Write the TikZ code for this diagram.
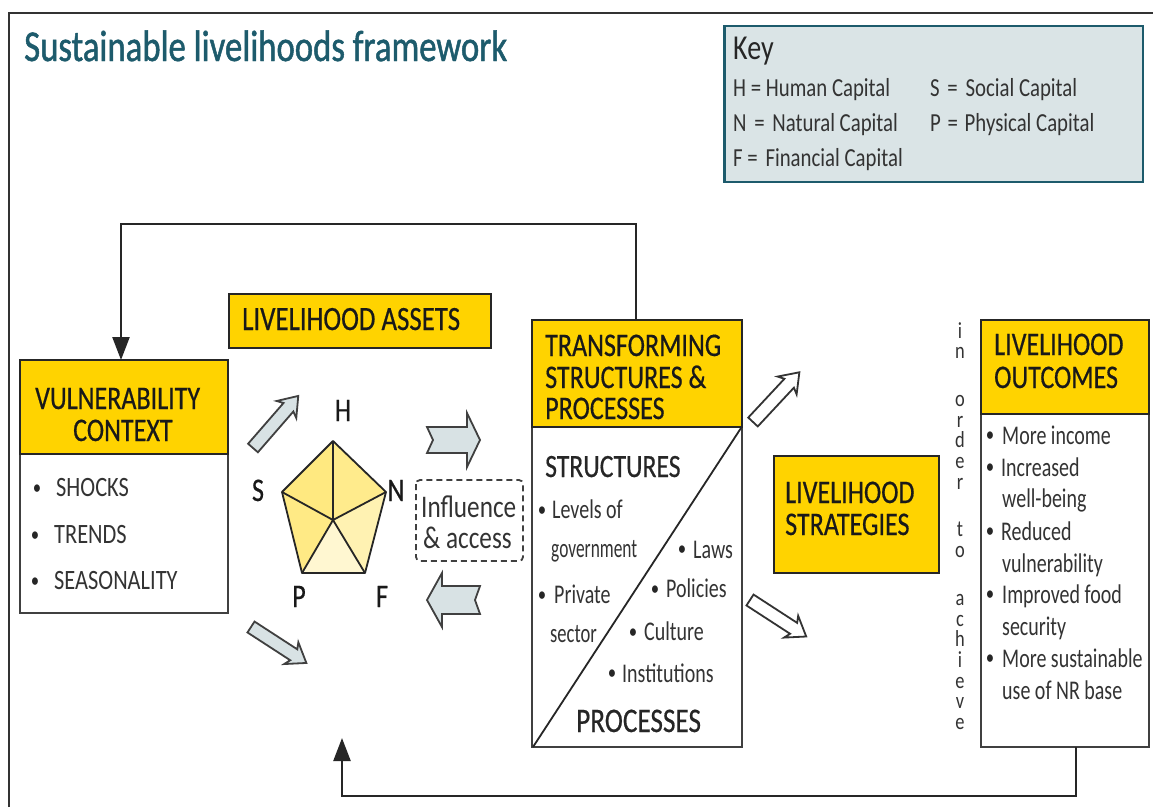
\documentclass[tikz,border=0pt]{standalone}
\usepackage{graphicx}
\usepackage{fontspec}
\setmainfont[FakeStretch=0.8]{Carlito}
\newfontfamily\narrowf[FakeStretch=0.74]{Carlito}
\newfontfamily\headf[FakeStretch=0.79,FakeBold=0.5]{Carlito}
\newfontfamily\titlef[FakeStretch=0.79,FakeBold=1.1]{Carlito}
\usetikzlibrary{arrows.meta,calc}
\definecolor{gold}{HTML}{FFD300}
\definecolor{teal}{HTML}{1D5B6C}
\definecolor{keyfill}{HTML}{DAE4E6}
\definecolor{arrowfill}{HTML}{D8E2E4}
\definecolor{bodytext}{HTML}{333333}
\tikzset{
  headbox/.style={draw=black!85,line width=2pt,fill=gold,minimum width=#1,inner sep=0pt,outer sep=0pt},
  whitebox/.style={draw=black!75,line width=2pt,fill=white},
  headtext/.style={anchor=base west,inner sep=0pt,text=black!90,font=\headf\fontsize{33}{33}\selectfont},
  bigtext/.style={anchor=base west,inner sep=0pt,text=black!85,font=\headf\fontsize{32.5}{33}\selectfont},
  bodyt/.style={anchor=base west,inner sep=0pt,text=bodytext,font=\narrowf\fontsize{27}{27}\selectfont},
  inflt/.style={anchor=base west,inner sep=0pt,text=bodytext,font=\fontsize{31.5}{32}\selectfont},
  capt/.style={anchor=base west,inner sep=0pt,text=bodytext,font=\fontsize{28}{28}\selectfont},
  keyt/.style={anchor=base west,inner sep=0pt,text=bodytext,font=\fontsize{26}{26}\selectfont},
  bul/.style={anchor=base,inner sep=0pt,text=black!85,font=\fontsize{21}{21}\selectfont},
  assetl/.style={anchor=base,inner sep=0pt,text=black!90,font=\headf\fontsize{33}{33}\selectfont},
  link/.style={draw=black!85,line width=2.4pt,line join=miter},
  sector/.style={draw=black!85,line width=1.8pt,line join=round},
  blockgrey/.style={draw=black!75,line width=1.8pt,fill=arrowfill,line join=miter},
  blockwhite/.style={draw=black!80,line width=1.8pt,fill=white,line join=miter}
}
\newcommand{\diagarrow}[5]{% style, x, y, angle, length
  \path[#1,shift={(#2,#3)},rotate=#4]
    (0,-6.5) -- (#5-15,-6.5) -- (#5-18,-13) -- (#5,0) -- (#5-18,13) -- (#5-15,6.5) -- (0,6.5) -- cycle;}
\begin{document}
\begin{tikzpicture}[x=1pt,y=-1pt]
\useasboundingbox (0,0) rectangle (1153,807);
\fill[white] (0,0) rectangle (1153,807);
% page frame
\draw[black!80,line width=2pt] (8.5,807) -- (8.5,12.5) -- (1153,12.5);

% title
\node[anchor=base west,inner sep=0pt,text=teal,font=\titlef\fontsize{44}{44}\selectfont] (title) at (24,61) {Sustainable livelihoods framework};

% key
\draw[draw=teal,line width=2.6pt,fill=keyfill] (724.5,26) rectangle (1143,182);
\node[anchor=base west,inner sep=0pt,text=black!85,font=\fontsize{35}{35}\selectfont] (keyhead) at (733,59) {Key};
\node[keyt] (k1) at (733,96) {H = Human Capital};
\node[keyt] (k2) at (733,131) {N\hspace{3pt} = \hspace{3pt}Natural Capital};
\node[keyt] (k3) at (733,166) {F = \hspace{3pt}Financial Capital};
\node[keyt] (k4) at (930,96) {S \hspace{3pt}= \hspace{3pt}Social Capital};
\node[keyt] (k5) at (930,131) {P \hspace{2pt}= \hspace{2pt}Physical Capital};

% vulnerability
\draw[whitebox] (20,454) rectangle (228,613);
\node[headbox=208pt,minimum height=94pt,anchor=north west] (vchead) at (20,360) {};
\node[headtext] (v1) at (35,409) {VULNERABILITY};
\node[headtext] (v2) at (73,441) {CONTEXT};
\node[bul] (vb1) at (37,494) {•};
\node[bul] (vb2) at (35,541) {•};
\node[bul] (vb3) at (35,587) {•};
\node[capt] (v3) at (56,496) {SHOCKS};
\node[capt] (v4) at (54,543) {TRENDS};
\node[capt] (v5) at (54,589) {SEASONALITY};

% assets
\node[headbox=262pt,minimum height=54pt,anchor=north west] (lahead) at (229,294) {};
\node[headtext,font=\headf\fontsize{34}{34}\selectfont] (la) at (242,330) {LIVELIHOOD ASSETS};

% pentagon
\coordinate (pH) at (333,441);
\coordinate (pN) at (386,492);
\coordinate (pF) at (365,573);
\coordinate (pP) at (302,573);
\coordinate (pS) at (282,492);
\coordinate (pC) at (333,520);
\fill[gold!50] (pS) -- (pH) -- (pC) -- cycle;
\fill[gold!45] (pH) -- (pN) -- (pC) -- cycle;
\fill[gold!30] (pN) -- (pF) -- (pC) -- cycle;
\fill[gold!18] (pF) -- (pP) -- (pC) -- cycle;
\fill[gold!48] (pP) -- (pS) -- (pC) -- cycle;
\draw[sector] (pH) -- (pN) -- (pF) -- (pP) -- (pS) -- cycle;
\draw[sector] (pC) -- (pH) (pC) -- (pN) (pC) -- (pF) (pC) -- (pP) (pC) -- (pS);
\node[assetl] (lH) at (343,421) {H};
\node[assetl] (lN) at (396,501) {N};
\node[assetl] (lS) at (258,501) {S};
\node[assetl] (lP) at (299,607) {P};
\node[assetl] (lF) at (382,607) {F};

% influence
\draw[black!75,line width=1.8pt,dash pattern=on 6pt off 4pt,rounded corners=4pt] (416,480) rectangle (523,561);
\node[inflt] (i1) at (421,517) {Influence};
\node[inflt] (i2) at (423,548) {\& access};

% grey arrows
\diagarrow{blockgrey}{253}{448}{49}{69}
\diagarrow{blockgrey}{251}{627}{-33}{66}
\path[blockgrey] (427,427) -- (467,427) -- (467,413) -- (480,440) -- (467,467) -- (467,453) -- (427,453) -- (433,440) -- cycle;
\path[blockgrey] (480,586) -- (442,586) -- (442,573) -- (427,600) -- (442,627) -- (442,614) -- (480,614) -- (475,600) -- cycle;

% transforming structures
\draw[whitebox] (532,427) rectangle (742,747);
\node[headbox=210pt,minimum height=107pt,anchor=north west] (tshead) at (532,320) {};
\draw[black!85,line width=1.8pt] (533,747) -- (741,428);
\node[headtext] (t1) at (545,356) {TRANSFORMING};
\node[headtext] (t2) at (545,388) {STRUCTURES \&};
\node[headtext] (t3) at (545,419) {PROCESSES};
\node[bigtext] (t4) at (545,477) {STRUCTURES};
\node[bigtext,font=\headf\fontsize{34.5}{35}\selectfont] (t5) at (576,732) {PROCESSES};
\node[bul] (tb1) at (542,516) {•};
\node[bul] (tb2) at (542,601) {•};
\node[bul] (tb3) at (682,555) {•};
\node[bul] (tb4) at (655,595) {•};
\node[bul] (tb5) at (633,638) {•};
\node[bul] (tb6) at (612,679) {•};
\node[bodyt] (s1) at (552,518) {Levels of};
\node[bodyt] (s2) at (551,557) {\scalebox{0.87}[1]{government}};
\node[bodyt] (s3) at (554,603) {Private};
\node[bodyt] (s4) at (550,642) {\scalebox{0.93}[1]{sector}};
\node[bodyt] (p1) at (693,558) {Laws};
\node[bodyt] (p2) at (666,597) {Policies};
\node[bodyt] (p3) at (644,640) {Culture};
\node[bodyt] (p4) at (622,682) {Institutions};

% white arrows
\diagarrow{blockwhite}{753}{422}{47}{68}
\diagarrow{blockwhite}{750}{600}{-33}{67}

% strategies
\node[headbox=165pt,minimum height=117pt,anchor=north west] (lshead) at (774,456) {};
\node[headtext] (ls1) at (785,503) {LIVELIHOOD};
\node[headtext] (ls2) at (785,535) {STRATEGIES};

% in order to achieve
\node[anchor=north,inner sep=0pt,align=center,text=bodytext,font=\fontsize{23}{20.7}\selectfont] (iota) at (960,322)
  {i\\n\\[27pt]o\\r\\d\\e\\r\\[27pt]t\\o\\[27pt]a\\c\\h\\i\\e\\v\\e};

% outcomes
\draw[whitebox] (981,414) rectangle (1149,747);
\node[headbox=168pt,minimum height=94pt,anchor=north west] (lohead) at (981,320) {};
\node[headtext] (o1) at (994,355) {LIVELIHOOD};
\node[headtext] (o2) at (994,388) {OUTCOMES};
\node[bul] (ob1) at (990,441) {•};
\node[bul] (ob2) at (990,473) {•};
\node[bul] (ob3) at (990,537) {•};
\node[bul] (ob4) at (990,600) {•};
\node[bul] (ob5) at (990,664) {•};
\node[bodyt] (r1) at (1002,444) {More income};
\node[bodyt] (r2) at (1001,476) {Increased};
\node[bodyt] (r3) at (1002,507) {well-being};
\node[bodyt] (r4) at (1001,540) {Reduced};
\node[bodyt] (r5) at (1002,572) {vulnerability};
\node[bodyt] (r6) at (1002,603) {Improved food};
\node[bodyt] (r7) at (1002,635) {security};
\node[bodyt] (r8) at (1002,667) {More sustainable};
\node[bodyt] (r9) at (1002,699) {use of NR base};

% loop connectors
\coordinate (loopA) at (636,320);
\coordinate (loopB) at (121,360);
\coordinate (loopC) at (1076,747);
\coordinate (loopD) at (342,738);
\draw[link,-{Triangle[length=23pt,width=17pt]}] (loopA) -- (636,224) -- (121,224) -- (loopB);
\draw[link,-{Triangle[length=23pt,width=17pt]}] (loopC) -- (1076,796) -- (342,796) -- (loopD);
\end{tikzpicture}
\end{document}
